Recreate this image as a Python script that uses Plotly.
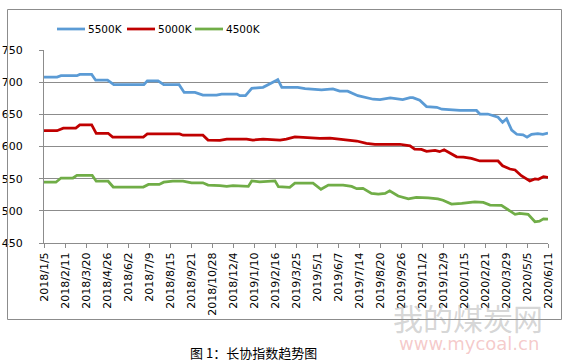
import plotly.graph_objects as go
import pandas as pd

# ---- data ----
dates_5500 = ["2018-01-05","2018-01-28","2018-02-04","2018-03-04","2018-03-09","2018-03-30","2018-04-06",
              "2018-04-27","2018-05-08","2018-06-30","2018-07-06","2018-07-25","2018-08-04","2018-08-31",
              "2018-09-09","2018-09-28","2018-10-12","2018-11-05","2018-11-14","2018-12-11","2018-12-16",
              "2018-12-26","2019-01-06","2019-01-26","2019-02-19","2019-02-21","2019-02-28","2019-03-28",
              "2019-04-10","2019-05-09","2019-05-29","2019-06-10","2019-06-24","2019-07-12","2019-08-08",
              "2019-08-20","2019-09-07","2019-09-29","2019-10-12","2019-10-17","2019-10-29","2019-11-10",
              "2019-11-28","2019-12-07","2020-01-08","2020-02-06","2020-02-12","2020-02-26","2020-03-15",
              "2020-03-23","2020-03-30","2020-04-08","2020-04-17","2020-04-28","2020-05-05","2020-05-13",
              "2020-05-24","2020-06-02","2020-06-11"]
vals_5500 = [708,708,710,710,712,712,703,
             703,696,696,702,702,696,696,
             684,684,680,680,681.5,681.5,679,
             679,690.5,692,703,704,692,692,
             690,688,689.5,686,686,679,673.5,
             673,675.5,673,676,676,672,662,
             661,658,656,656,650.5,650.5,645.5,
             637.5,643,625.5,619,618,614.5,619,
             620,619,621]

dates_5000 = ["2018-01-05","2018-01-28","2018-02-08","2018-03-02","2018-03-09","2018-03-30","2018-04-07",
              "2018-04-28","2018-05-06","2018-06-29","2018-07-06","2018-09-01","2018-09-07","2018-10-12",
              "2018-10-21","2018-11-11","2018-11-23","2018-12-28","2019-01-08","2019-01-26","2019-02-25",
              "2019-03-08","2019-03-23","2019-04-19","2019-05-06","2019-05-24","2019-06-16","2019-07-10",
              "2019-07-27","2019-08-11","2019-09-24","2019-10-12","2019-10-20","2019-11-01","2019-11-10",
              "2019-11-25","2019-12-03","2019-12-11","2020-01-02","2020-01-14","2020-01-28","2020-02-12",
              "2020-03-15","2020-03-23","2020-04-05","2020-04-14","2020-04-25","2020-05-10","2020-05-19",
              "2020-05-25","2020-06-03","2020-06-11"]
vals_5000 = [624.5,624.5,628.5,628.5,633.5,633.5,620.5,
             620.5,614.5,614.5,619.5,619.5,617.5,617.5,
             610,609.5,611.5,611.5,610,611.5,610,
             611.5,615,613,612.5,613,611,608.5,
             605,603.5,603.5,601,596,595.5,592.5,
             594,592,595,584,583.5,581.5,577.5,
             577.5,570,565,563.5,554.5,546.5,549.5,
             549,553,552]

dates_4500 = ["2018-01-05","2018-01-26","2018-02-04","2018-02-25","2018-03-04","2018-03-31","2018-04-07",
              "2018-04-28","2018-05-07","2018-06-29","2018-07-08","2018-07-27","2018-08-04","2018-08-20",
              "2018-09-07","2018-09-22","2018-10-12","2018-10-21","2018-11-11","2018-11-23","2018-12-04",
              "2018-12-28","2018-12-31","2019-01-06","2019-01-20","2019-02-16","2019-02-22","2019-03-14",
              "2019-03-23","2019-04-24","2019-05-08","2019-05-21","2019-06-16","2019-07-01","2019-07-10",
              "2019-07-21","2019-08-05","2019-08-17","2019-08-29","2019-09-06","2019-09-21","2019-10-09",
              "2019-10-23","2019-11-13","2019-11-30","2019-12-09","2019-12-24","2020-01-11","2020-02-03",
              "2020-02-18","2020-03-01","2020-03-21","2020-04-01","2020-04-14","2020-04-22","2020-05-07",
              "2020-05-19","2020-05-27","2020-06-03","2020-06-11"]
vals_4500 = [544.5,544.5,551,551,555,555,546,
             546,537,537,541,541,544.5,546,
             546,543.5,543.5,540,539,538,539,
             539,538,546.5,545,546.5,537.5,536.5,
             543,543,533.5,540,540,538,534.5,
             535,527,526,527,531,523,518.5,
             521,520,518.5,516.5,510.5,511.5,514,
             513,509,508.5,501.5,494.5,496,494.5,
             483,484,487.5,487]

tick_labels = ["2018/1/5","2018/2/11","2018/3/20","2018/4/26","2018/6/2","2018/7/9","2018/8/15",
               "2018/9/21","2018/10/28","2018/12/4","2019/1/10","2019/2/16","2019/3/25","2019/5/1",
               "2019/6/7","2019/7/14","2019/8/20","2019/9/26","2019/11/2","2019/12/9","2020/1/15",
               "2020/2/21","2020/3/29","2020/5/5","2020/6/11"]
y_ticks = [450, 500, 550, 600, 650, 700, 750]

series_names = ["5500K", "5000K", "4500K"]
series_dates = [dates_5500, dates_5000, dates_4500]
series_vals = [vals_5500, vals_5000, vals_4500]
series_colors = ["#5B9BD5", "#C00000", "#70AD47"]

FONT = "DejaVu Sans"
GRID = "#8C8C8C"
W, H = 565, 362
L, R, T, B = 44, 17, 50, 119
PW, PH = W - L - R, H - T - B


def px(x):
    return (x - L) / PW


def py(y):
    return (H - B - y) / PH


fig = go.Figure()
for name, d, v, c in zip(series_names, series_dates, series_vals, series_colors):
    fig.add_trace(go.Scatter(x=pd.to_datetime(d), y=v, name=name, mode="lines",
                             line=dict(color=c, width=2.75), showlegend=False))

tick_dates = [pd.Timestamp(*map(int, t.split("/"))) for t in tick_labels]

fig.update_layout(
    width=W, height=H,
    margin=dict(l=L, r=R, t=T, b=B, autoexpand=False),
    paper_bgcolor="white", plot_bgcolor="white",
    font=dict(family=FONT, size=11, color="#000000"),
    showlegend=False,
    xaxis=dict(type="date", range=[tick_dates[0], tick_dates[-1]], automargin=False,
               tickmode="array", tickvals=tick_dates, ticktext=tick_labels,
               tickangle=-90, showgrid=False, showline=True, linecolor=GRID, linewidth=1,
               ticks="outside", ticklen=4, tickcolor=GRID, zeroline=False,
               tickfont=dict(family=FONT, size=11)),
    yaxis=dict(range=[450, 750], tickmode="array", tickvals=y_ticks, automargin=False,
               showgrid=True, gridcolor=GRID, gridwidth=1,
               showline=True, linecolor=GRID, linewidth=1,
               ticks="outside", ticklen=4, tickcolor=GRID, zeroline=False,
               ticklabelstandoff=14, tickfont=dict(family=FONT, size=11)),
)

# outer chart border
fig.add_shape(type="rect", xref="paper", yref="paper",
              x0=px(7.5), x1=px(561.5), y0=py(319.5), y1=py(9.5),
              line=dict(color=GRID, width=1), fillcolor="rgba(0,0,0,0)", layer="above")

# legend (drawn as line samples + text)
leg_x = [57, 127, 195]
for i, (name, c) in enumerate(zip(series_names, series_colors)):
    fig.add_shape(type="line", xref="paper", yref="paper",
                  x0=px(leg_x[i]), x1=px(leg_x[i] + 28), y0=py(29), y1=py(29),
                  line=dict(color=c, width=2.75))
    fig.add_annotation(text=name, xref="paper", yref="paper",
                       x=px(leg_x[i] + 29), y=py(29), xanchor="left", yanchor="middle",
                       showarrow=False, font=dict(family=FONT, size=10.5, color="#000000"))

# caption
fig.add_annotation(text="图 1：长协指数趋势图", xref="paper", yref="paper",
                   x=px(253), y=py(352), xanchor="center", yanchor="middle",
                   showarrow=False, font=dict(family="Noto Sans CJK SC", size=13, color="#000000"))

# watermark
fig.add_annotation(text="我的煤炭网", xref="paper", yref="paper",
                   x=px(468), y=py(317), xanchor="center", yanchor="middle",
                   showarrow=False, font=dict(family="Noto Sans CJK SC", size=30, color="rgba(150,150,150,0.4)"))
fig.add_annotation(text="www.mycoal.cn", xref="paper", yref="paper",
                   x=px(469), y=py(343), xanchor="center", yanchor="middle",
                   showarrow=False, font=dict(family="DejaVu Sans", size=18, color="rgba(230,120,120,0.4)"))

fig.write_html("out.html", config={"displayModeBar": False},
               post_script="document.body.style.margin='0';")
